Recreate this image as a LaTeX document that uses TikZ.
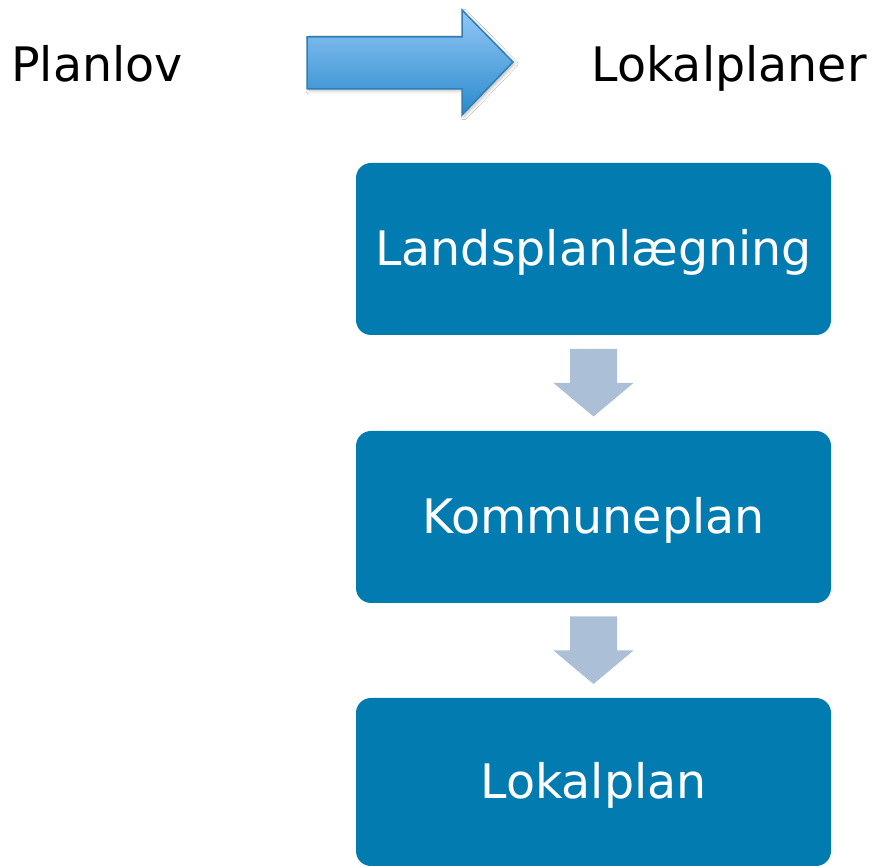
\documentclass[tikz,border=0pt]{standalone}
\usepackage{fontspec}
\setmainfont{DejaVu Sans}
\usetikzlibrary{calc,shadows.blur}
\definecolor{boxblue}{HTML}{027BB0}
\definecolor{smallarr}{HTML}{ABC0D6}
\definecolor{bigtop}{HTML}{93C7F7}
\definecolor{bigbot}{HTML}{2A8ACB}
\definecolor{bigline}{HTML}{2E7FB6}
\tikzset{
  x=1pt, y=1pt,
  stepbox/.style={fill=boxblue, rounded corners=15pt, minimum width=475pt, minimum height=172pt,
    inner sep=0pt, text=white, font=\fontsize{47.5pt}{56pt}\selectfont, text height=34pt, text depth=0pt},
  label/.style={inner sep=0pt, anchor=base, font=\fontsize{47.5pt}{56pt}\selectfont, text=black},
  smallarrow/.style={fill=smallarr},
  bigarrow/.style={top color=bigtop, bottom color=bigbot, draw=bigline, line width=1.5pt, line join=miter,
    blur shadow={shadow xshift=2pt, shadow yshift=-2pt, shadow blur radius=3pt, shadow opacity=25}}
}
\begin{document}
\begin{tikzpicture}
\useasboundingbox (0,0) rectangle (875,866);
\fill[white] (0,0) rectangle (875,866);
\node[label] (planlov) at (97,784) {Planlov};
\node[label] (lokalplaner) at (729,784) {Lokalplaner};
\path[bigarrow] (307,829) -- (462,829) -- (462,856) -- (513,804) -- (462,751) -- (462,777) -- (307,777) -- cycle;
\node[stepbox] (b1) at (593.5,617) {Landsplanlægning};
\node[stepbox] (b2) at (593.5,349) {Kommuneplan};
\node[stepbox, minimum height=168pt] (b3) at (593.5,84) {Lokalplan};
\coordinate (m1) at ($(b1.south)!0.5!(b2.north)$);
\coordinate (m2) at ($(b2.south)!0.5!(b3.north)$);
\foreach \m in {m1,m2}{
  \fill[smallarrow] ($(\m)+(-23.5,34)$) -- ($(\m)+(23.5,34)$) -- ($(\m)+(23.5,0)$) -- ($(\m)+(40,0)$)
    -- ($(\m)+(0,-33.5)$) -- ($(\m)+(-40,0)$) -- ($(\m)+(-23.5,0)$) -- cycle;
}
\end{tikzpicture}
\end{document}
